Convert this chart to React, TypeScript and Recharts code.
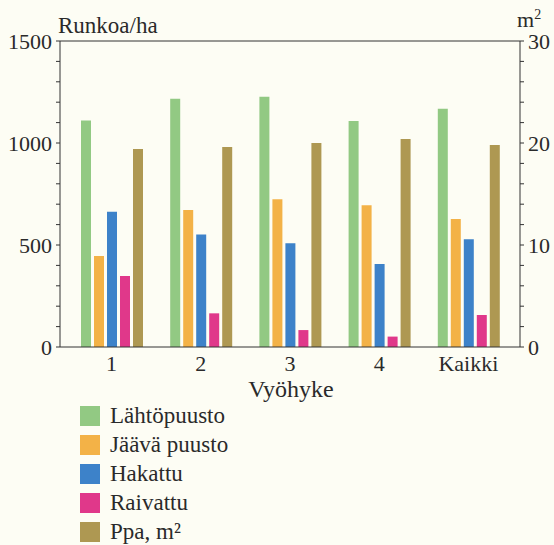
import {
    BarChart,
    Bar,
    XAxis,
    YAxis,
    ReferenceLine,
} from 'recharts';

const zones = ['1', '2', '3', '4', 'Kaikki'];

const lahtopuusto = [1110, 1217, 1227, 1108, 1168];
const jaavaPuusto = [446, 672, 724, 695, 627];
const hakattu = [663, 552, 508, 407, 528];
const raivattu = [348, 165, 83, 51, 157];
const ppa = [19.4, 19.6, 20.0, 20.4, 19.8];

const leftTicks = [0, 100, 200, 300, 400, 500, 600, 700, 800, 900, 1000, 1100, 1200, 1300, 1400, 1500];
const rightTicks = [0, 2, 4, 6, 8, 10, 12, 14, 16, 18, 20, 22, 24, 26, 28, 30];

const series = [
    { key: 'lahto', name: 'Lähtöpuusto', color: '#92c983', axis: 'left' },
    { key: 'jaava', name: 'Jäävä puusto', color: '#f3b247', axis: 'left' },
    { key: 'hakattu', name: 'Hakattu', color: '#3d82c9', axis: 'left' },
    { key: 'raivattu', name: 'Raivattu', color: '#e0388a', axis: 'left' },
    { key: 'ppa', name: 'Ppa, m²', color: '#ae9852', axis: 'right' },
];

const chartData = zones.map((zone, i) => ({
    zone,
    lahto: lahtopuusto[i],
    jaava: jaavaPuusto[i],
    hakattu: hakattu[i],
    raivattu: raivattu[i],
    ppa: ppa[i],
}));

const font = '"Liberation Serif", "DejaVu Serif", serif';
const textColor = '#2a2a2a';
const tickStyle = { fill: textColor, fontSize: 22, fontFamily: font };

function LegendList() {
    return (
        <div style={{ fontFamily: font, fontSize: 23, color: textColor }}>
            {series.map((s) => (
                <div
                    key={s.key}
                    style={{ display: 'flex', alignItems: 'center', height: 29 }}
                >
                    <div
                        style={{
                            width: 20,
                            height: 20,
                            background: s.color,
                            marginRight: 10,
                        }}
                    />
                    <span style={{ lineHeight: 1 }}>{s.name}</span>
                </div>
            ))}
        </div>
    );
}

export default function App() {
    return (
        <div
            style={{
                position: 'absolute',
                left: 0,
                top: 0,
                width: 554,
                height: 545,
                background: '#fdfdf4',
            }}
        >
            <BarChart
                width={554}
                height={545}
                data={chartData}
                margin={{ top: 41, right: 0, bottom: 150, left: 0 }}
                barSize={10}
                barGap={3}
            >
                <XAxis
                    dataKey="zone"
                    tickLine={false}
                    tickSize={0}
                    tickMargin={8}
                    height={48}
                    padding={{ left: 7, right: 7 }}
                    axisLine={{ stroke: '#333' }}
                    tick={tickStyle}
                />
                <YAxis
                    yAxisId="left"
                    orientation="left"
                    width={60}
                    domain={[0, 1500]}
                    ticks={leftTicks}
                    interval={0}
                    tickFormatter={(v) => (v % 500 === 0 ? String(v) : '')}
                    tickSize={4}
                    tickMargin={4}
                    axisLine={{ stroke: '#333' }}
                    tickLine={{ stroke: '#333' }}
                    tick={tickStyle}
                />
                <YAxis
                    yAxisId="right"
                    orientation="right"
                    width={34}
                    domain={[0, 30]}
                    ticks={rightTicks}
                    interval={0}
                    tickFormatter={(v) => (v % 10 === 0 ? String(v) : '')}
                    tickSize={4}
                    tickMargin={4}
                    axisLine={{ stroke: '#333' }}
                    tickLine={{ stroke: '#333' }}
                    tick={tickStyle}
                />
                <ReferenceLine yAxisId="left" y={1500} stroke="#333" />
                {series.map((s) => (
                    <Bar
                        key={s.key}
                        dataKey={s.key}
                        name={s.name}
                        yAxisId={s.axis}
                        fill={s.color}
                        isAnimationActive={false}
                    />
                ))}
                <text x={58} y={33} fill={textColor} fontSize={23} fontFamily={font}>
                    Runkoa/ha
                </text>
                <text x={517} y={27} fill={textColor} fontSize={22} fontFamily={font}>
                    m<tspan fontSize={14} dy={-8}>2</tspan>
                </text>
                <text
                    x={291}
                    y={397}
                    textAnchor="middle"
                    fill={textColor}
                    fontSize={24}
                    fontFamily={font}
                >
                    Vyöhyke
                </text>
            </BarChart>
            <div style={{ position: 'absolute', left: 80, top: 401 }}>
                <LegendList />
            </div>
        </div>
    );
}
